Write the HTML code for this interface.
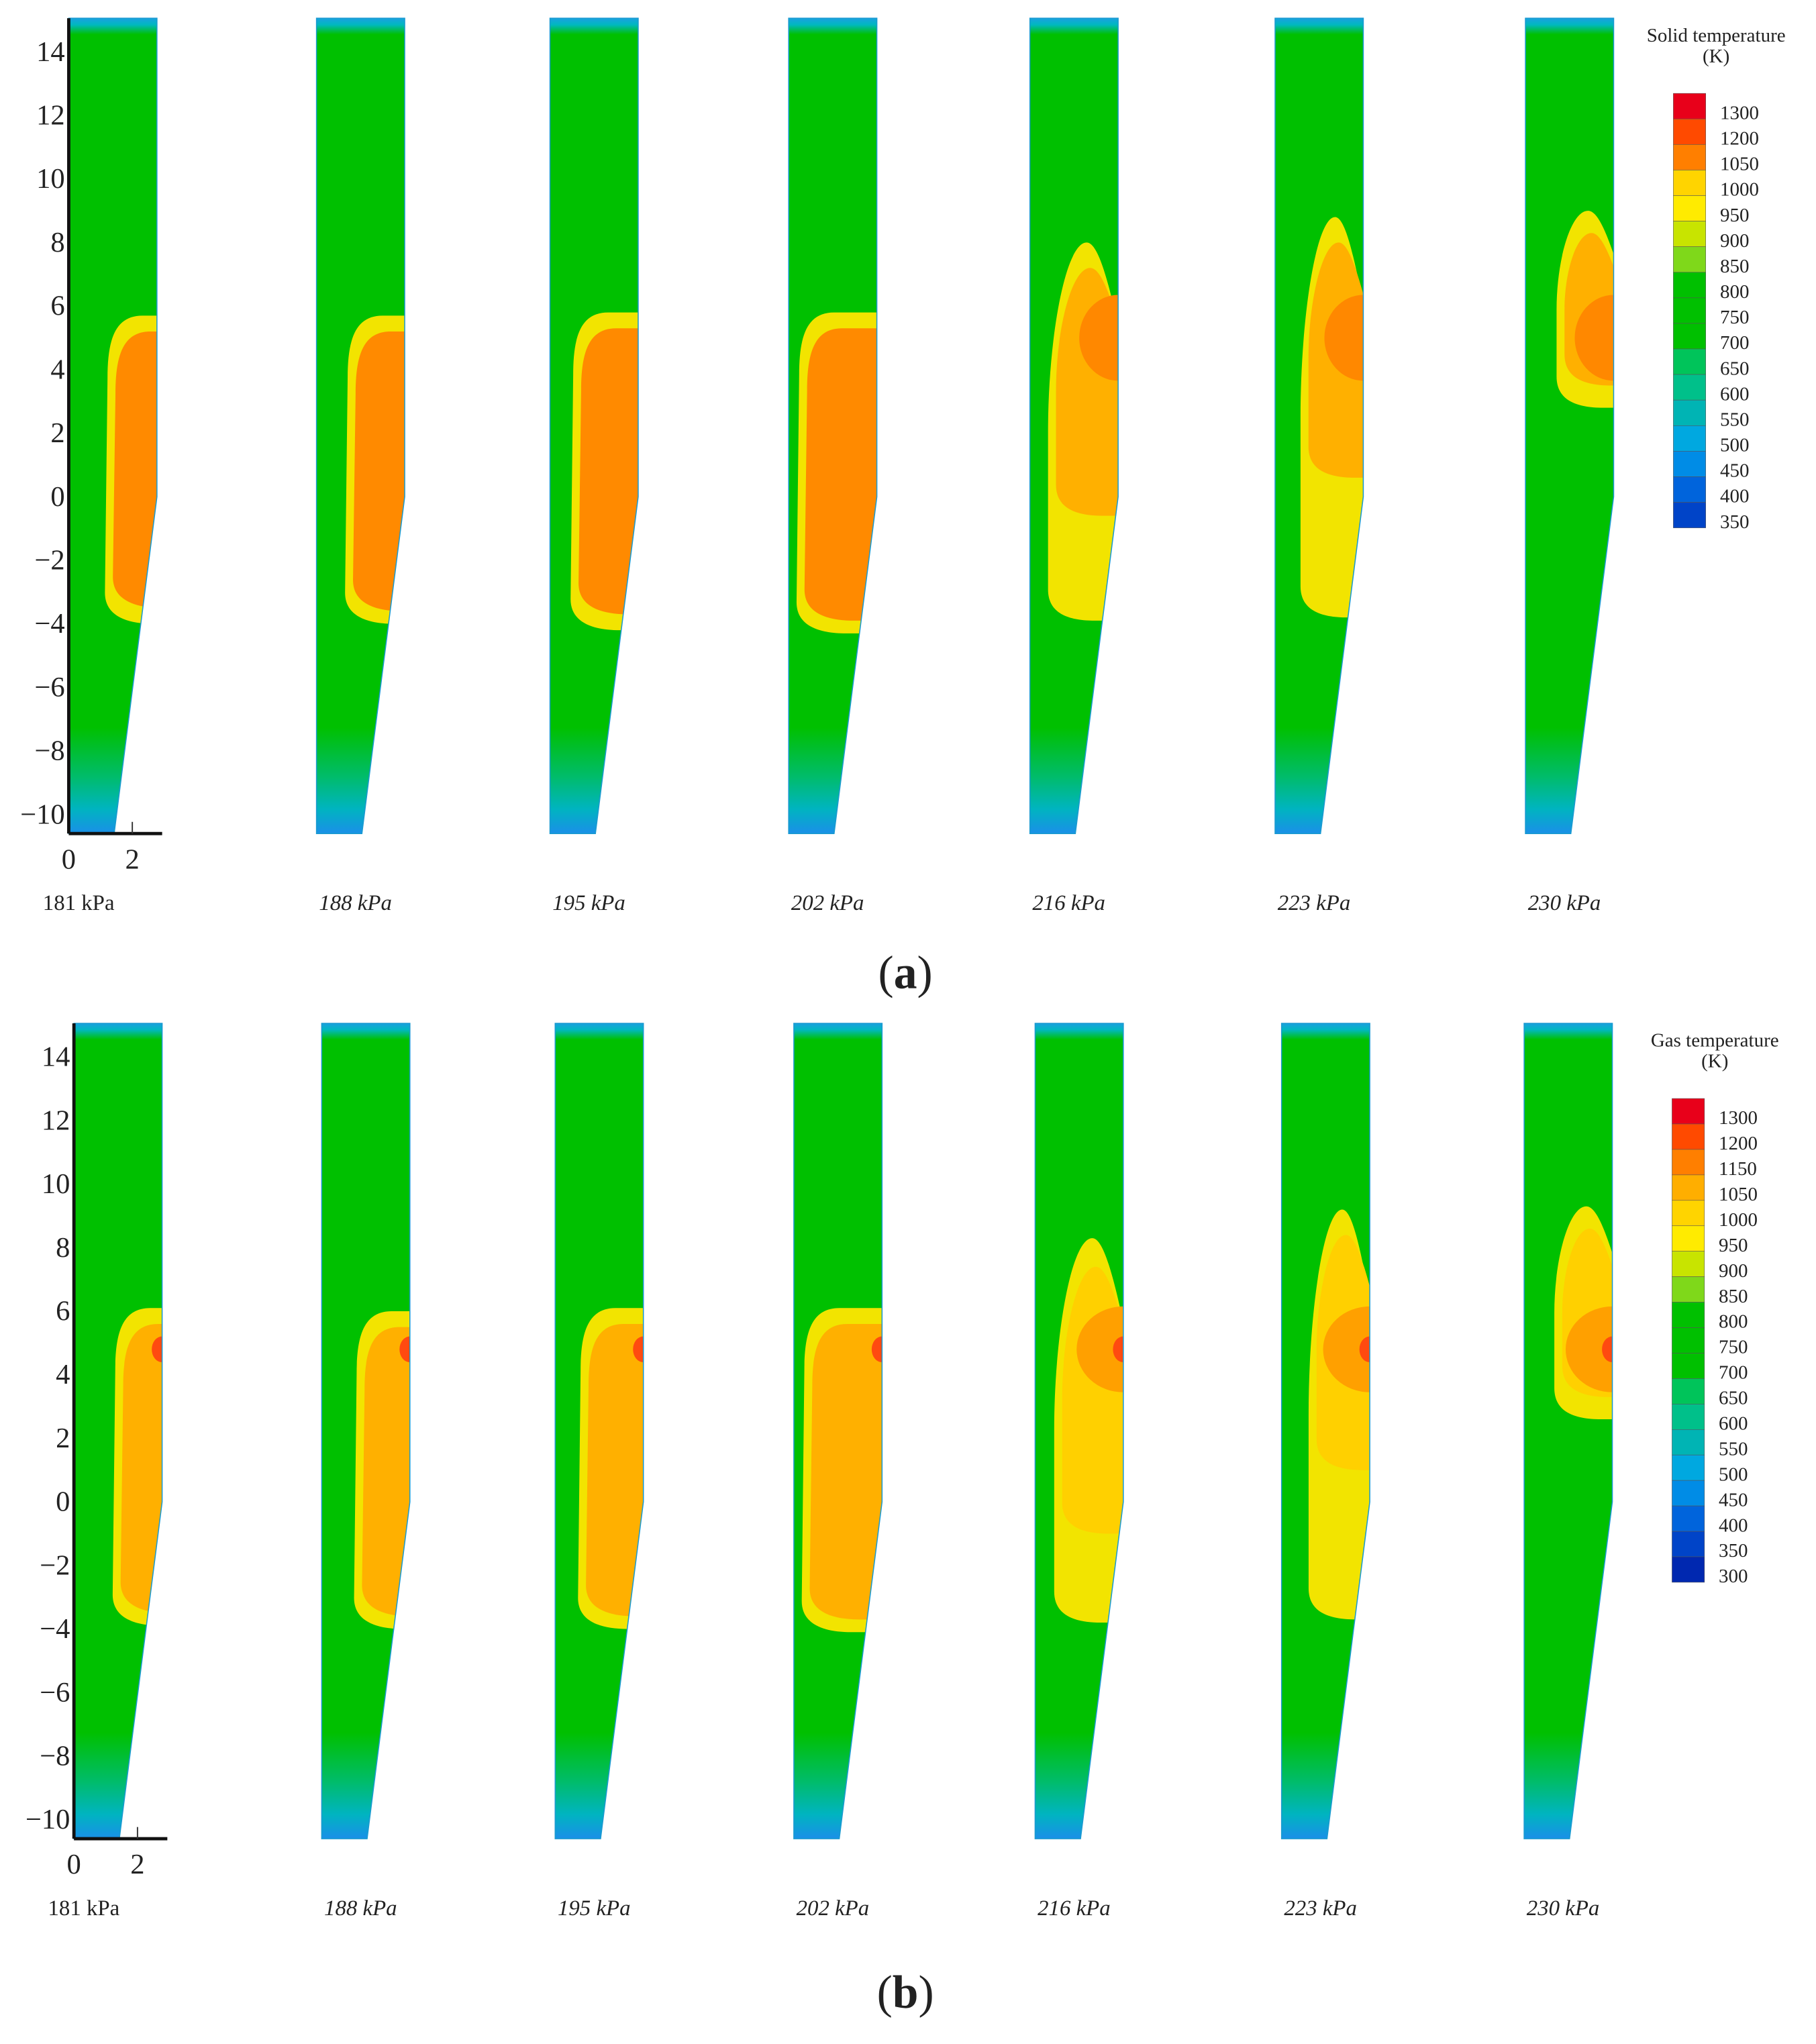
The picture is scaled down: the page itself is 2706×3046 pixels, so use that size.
<!DOCTYPE html>
<html><head><meta charset="utf-8"><style>
html,body{margin:0;padding:0;background:#fff}
svg{display:block}
text{font-family:"Liberation Serif",serif;fill:#222}
</style></head><body>
<svg id="fig" xmlns="http://www.w3.org/2000/svg" width="2706" height="3046" viewBox="0 0 1400 1576" preserveAspectRatio="none">
<text x="698" y="762" font-size="36" text-anchor="middle">(<tspan font-weight="bold">a</tspan>)</text>
<text x="698" y="1548" font-size="36" text-anchor="middle">(<tspan font-weight="bold">b</tspan>)</text>
</svg>
<script>
const pressures=["181 kPa","188 kPa","195 kPa","202 kPa","216 kPa","223 kPa","230 kPa"];
const yTicks=[14,12,10,8,6,4,2,0,-2,-4,-6,-8,-10];
const xTicks=[0,2];
// solid temperature hot-zone extents (axial position, radial left edge)
const solidTop=[5.7,5.7,5.8,5.8,8.0,8.8,9.0];
const solidBottom=[-4.0,-4.0,-4.2,-4.3,-3.9,-3.8,2.8];
const solidLeft=[1.22,0.98,0.73,0.33,0.57,0.8,0.98];
const solidMidTop=[5.2,5.2,5.3,5.3,7.2,8.0,8.3];
const solidMidBottom=[-3.5,-3.6,-3.7,-3.9,-0.6,0.6,3.5];
const solidCore=[null,null,null,null,5.0,5.0,5.0];
// gas temperature hot-zone extents
const gasTop=[6.1,6.0,6.1,6.1,8.3,9.2,9.3];
const gasBottom=[-3.9,-4.0,-4.0,-4.1,-3.8,-3.7,2.6];
const gasLeft=[1.3,1.1,0.8,0.33,0.6,0.85,0.95];
const gasMidTop=[5.6,5.5,5.6,5.6,7.4,8.4,8.6];
const gasMidBottom=[-3.5,-3.6,-3.6,-3.7,-1.0,1.0,3.3];
const gasCore=[null,null,null,null,4.8,4.8,4.8];
const gasRed=[4.8,4.8,4.8,4.8,4.8,4.8,4.8];
const solidLegend=["1300","1200","1050","1000","950","900","850","800","750","700","650","600","550","500","450","400","350"];
const gasLegend=["1300","1200","1150","1050","1000","950","900","850","800","750","700","650","600","550","500","450","400","350","300"];
const legendColors=["#e8001a","#ff4a00","#ff7f00","#ffae00","#ffd400","#ffeb00","#c8e400","#7fd81a","#00c000","#00c000","#00c000","#00c45a","#00c08a","#00b4b4","#00a8e0","#008ce6","#0064dc","#0044c8","#0028b0"];
const svg=document.getElementById('fig');
const NS='http://www.w3.org/2000/svg';
const PX=24.5;
function mk(tag,attrs,parent){const e=document.createElementNS(NS,tag);for(const k in attrs)e.setAttribute(k,attrs[k]);(parent||svg).appendChild(e);return e;}
function yS(v,off){return 383-PX*v+off;}
function blob(L,T,B,off,x0,egg){
  const xl=x0+L*PX, yt=yS(T,off), yb=yS(B,off), xr=x0+68, xe=x0+80;
  const h=yb-yt, r=Math.min(30,h*0.35);
  if(egg){
    const w=xr-xl, px=xl+w*0.55;
    return `M${xe},${yt+h*0.25} L${xr},${yt+h*0.22} C${xr-w*0.2},${yt+h*0.05} ${px+w*0.12},${yt} ${px},${yt} C${px-w*0.3},${yt} ${xl},${yt+h*0.25} ${xl},${yt+h*0.5} L${xl},${yb-r*0.8} C${xl},${yb-r*0.2} ${xl+r*0.5},${yb} ${xl+r*1.2},${yb} L${xe},${yb} Z`;
  }
  return `M${xe},${yt} L${xl+r*0.9},${yt} C${xl+r*0.2},${yt} ${xl},${yt+r*0.6} ${xl},${yt+r*1.6} L${xl-2},${yb-r*0.8} C${xl-2},${yb-r*0.2} ${xl+r*0.5},${yb} ${xl+r*1.2},${yb} L${xe},${yb} Z`;
}
function figure(off,lefts,top,bot,left,midTop,midBot,core,red,midColor,innerOrange,legend,legTitle,legX,legY,legH,isGas){
  lefts.forEach((x0,i)=>{
    const g=mk('g',{});
    
    
    const yTop=yS(15.06,off), y0=yS(0,off), yBot=yS(-10.6,off);
    const shape=`M${x0},${yTop} L${x0+68},${yTop} L${x0+68},${y0} L${x0+35},${yBot} L${x0},${yBot} Z`;
    const cid='clip'+off+'_'+i;
    const cp=mk('clipPath',{id:cid},g); mk('path',{d:shape},cp);
    const gid='grad'+off+'_'+i;
    const lg=mk('linearGradient',{id:gid,x1:0,y1:0,x2:0,y2:1},g);
    [[0,'#1aa0e0'],[0.008,'#00b8c0'],[0.02,'#00c000'],[0.87,'#00c000'],[0.93,'#00bc6a'],[0.97,'#00b4c0'],[1,'#1a90e8']].forEach(s=>mk('stop',{offset:s[0],'stop-color':s[1]},lg));
    const cg=mk('g',{'clip-path':`url(#${cid})`},g);
    mk('path',{d:shape,fill:`url(#${gid})`},cg);
    const egg=i>=4;
    mk('path',{d:blob(left[i],top[i],bot[i],off,x0,egg),fill:'#f2e400'},cg);
    const inner=(i<4)?innerOrange:midColor;
    mk('path',{d:blob(left[i]+0.25,midTop[i],midBot[i],off,x0,egg),fill:inner},cg);
    if(core[i]!==null){
      mk('ellipse',{cx:x0+68,cy:yS(core[i],off),rx:isGas?36:30,ry:PX*1.35,fill:isGas?'#ffa000':'#ff8800'},cg);
    }
    if(red){mk('ellipse',{cx:x0+68,cy:yS(red[i],off),rx:8,ry:10,fill:'#ff4a10'},cg);}
    mk('path',{d:shape,fill:'none',stroke:'#1a9ad0','stroke-width':0.8},g);
    const t=mk('text',{x:i===0?x0-20:x0+30,y:yS(-10.6,off)+59,'font-size':17,'text-anchor':i===0?'start':'middle','font-style':i===0?'normal':'italic'},g);
    t.textContent=pressures[i];
    
    
  });
  const x0=lefts[0], ax=mk('g',{});
  
  
  mk('line',{x1:x0,y1:yS(15.06,off),x2:x0,y2:yS(-10.6,off),stroke:'#111','stroke-width':2.5},ax);
  mk('line',{x1:x0,y1:yS(-10.6,off),x2:x0+72,y2:yS(-10.6,off),stroke:'#111','stroke-width':2.5},ax);
  yTicks.forEach(v=>{
    const t=mk('text',{x:x0-3,y:yS(v,off)+7,'font-size':22,'text-anchor':'end'},ax);
    t.textContent=v<0?'\u2212'+(-v):String(v);
    
    
  });
  xTicks.forEach(v=>{
    const xx=x0+v*PX;
    if(v>0)mk('line',{x1:xx,y1:yS(-10.6,off),x2:xx,y2:yS(-10.6,off)-9,stroke:'#333','stroke-width':1},ax);
    const t=mk('text',{x:xx,y:yS(-10.6,off)+27,'font-size':22,'text-anchor':'middle'},ax);
    t.textContent=String(v);
    
    
  });
  const lgG=mk('g',{});
  
  
  const tt=mk('text',{x:legX+33,y:legY-40,'font-size':15,'text-anchor':'middle'},lgG);tt.textContent=legTitle;
  const tk=mk('text',{x:legX+33,y:legY-24,'font-size':15,'text-anchor':'middle'},lgG);tk.textContent='(K)';
  const n=legend.length, bh=legH/n;
  const cols=isGas?legendColors:legendColors.slice(0,3).concat(legendColors.slice(4,18));
  legend.forEach((lab,k)=>{
    mk('rect',{x:legX,y:legY+k*bh,width:25,height:bh,fill:cols[k]||'#0028b0',stroke:'#555','stroke-width':0.3},lgG);
    const t=mk('text',{x:legX+36,y:legY+k*bh+bh*0.7+6,'font-size':15},lgG);
    t.textContent=lab;
    
    
  });
}
figure(0,[53,244,424,608,794,983,1176],solidTop,solidBottom,solidLeft,solidMidTop,solidMidBottom,solidCore,null,'#ffb000','#ff8a00',solidLegend,'Solid temperature',1290,72,335,false);
figure(775,[57,248,428,612,798,988,1175],gasTop,gasBottom,gasLeft,gasMidTop,gasMidBottom,gasCore,gasRed,'#ffd000','#ffb000',gasLegend,'Gas temperature',1289,847,373,true);
</script>
</body></html>
